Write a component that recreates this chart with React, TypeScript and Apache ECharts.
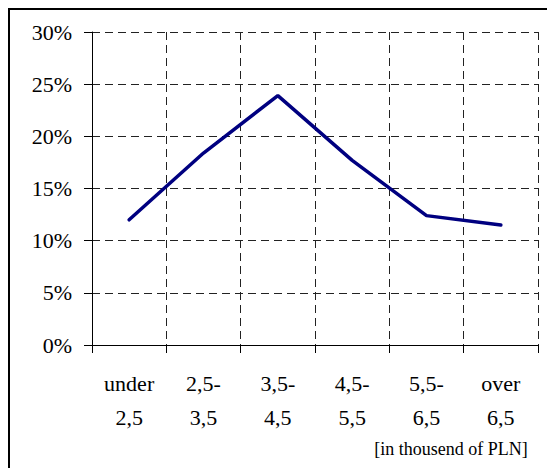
import React, { useEffect, useRef } from "react";
import * as echarts from "echarts";

const categories = ["under\n2,5", "2,5-\n3,5", "3,5-\n4,5", "4,5-\n5,5", "5,5-\n6,5", "over\n6,5"];
const shares = [12.0, 18.4, 23.9, 17.7, 12.4, 11.5];
const unitNote = "[in thousend of PLN]";

const FONT = "Liberation Serif";

export default function App() {
  const ref = useRef<HTMLDivElement>(null);
  useEffect(() => {
    if (!ref.current) return;
    const chart = echarts.init(ref.current, undefined, { renderer: "svg" });
    chart.setOption({
      animation: false,
      backgroundColor: "#ffffff",
      textStyle: { fontFamily: FONT },
      grid: { left: 92, top: 32, right: 9, bottom: 123, containLabel: false },
      xAxis: {
        type: "category",
        data: categories,
        boundaryGap: true,
        axisLine: { show: true, lineStyle: { color: "#000", width: 1 } },
        axisTick: { show: true, length: 8, lineStyle: { color: "#000" } },
        axisLabel: {
          margin: 21,
          color: "#000",
          fontFamily: FONT,
          fontSize: 22,
          lineHeight: 34,
          align: "center",
        },
        splitLine: { show: true, lineStyle: { color: "#222", type: [8, 5], width: 1 } },
      },
      yAxis: {
        type: "value",
        min: 0,
        max: 30,
        interval: 5,
        axisLine: { show: true, lineStyle: { color: "#000", width: 1 } },
        axisTick: { show: true, length: 8, lineStyle: { color: "#000" } },
        axisLabel: {
          margin: 20,
          color: "#000",
          fontFamily: FONT,
          fontSize: 22,
          formatter: "{value}%",
        },
        splitLine: { show: true, lineStyle: { color: "#222", type: [8, 5], width: 1 } },
      },
      series: [
        {
          type: "line",
          data: shares,
          showSymbol: false,
          symbol: "none",
          lineStyle: { color: "#000080", width: 3.5, cap: "round" },
          itemStyle: { color: "#000080" },
        },
      ],
      graphic: [
        {
          type: "rect",
          shape: { x: 9, y: 9, width: 600, height: 600 },
          style: { fill: "none", stroke: "#000", lineWidth: 2 },
          silent: true,
        },
        {
          type: "text",
          x: 451,
          y: 449,
          style: {
            text: unitNote,
            fill: "#000",
            fontFamily: FONT,
            fontSize: 18,
            align: "center",
            verticalAlign: "middle",
          },
        },
      ],
    });
    return () => chart.dispose();
  }, []);
  return (
    <div
      ref={ref}
      style={{ position: "fixed", left: 0, top: 0, width: 547, height: 468 }}
    />
  );
}
